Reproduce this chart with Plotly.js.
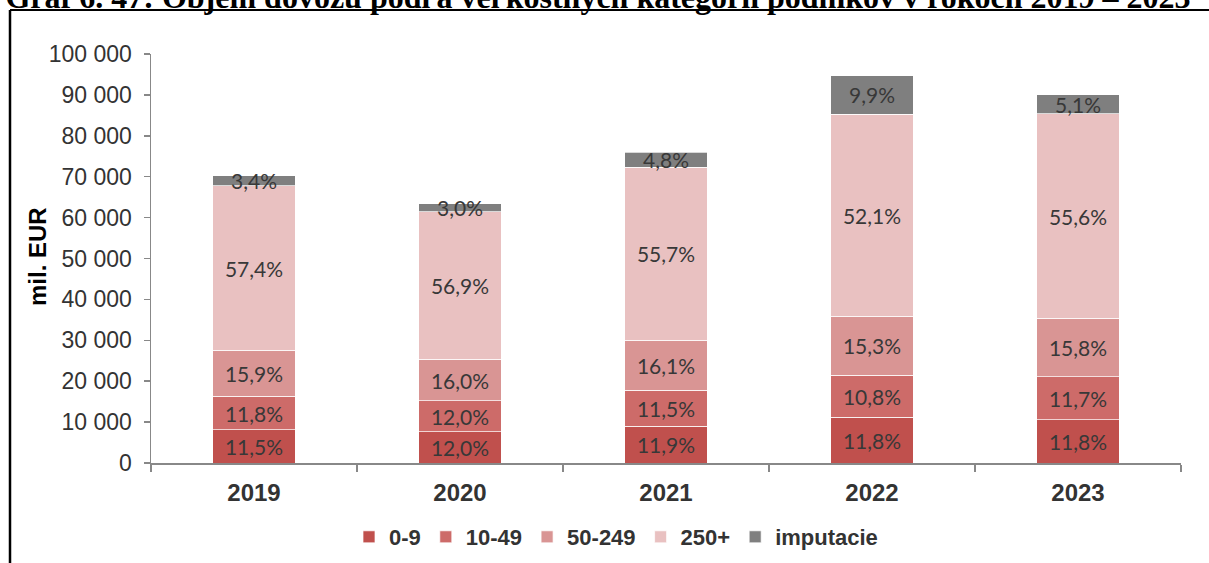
<!DOCTYPE html>
<html>
<head>
<meta charset="utf-8">
<script src="https://cdn.plot.ly/plotly-3.0.1.min.js"></script>
<style>
html,body{margin:0;padding:0;background:#fff;}
#chart{width:1209px;height:563px;}
</style>
</head>
<body>
<div id="chart"></div>
<script>
// Categories (years)
const years = ["2019", "2020", "2021", "2022", "2023"];

// Series values (mil. EUR)
const v0_9      = [8070, 7610, 9040, 11190, 10620];
const v10_49    = [8280, 7610, 8740, 10240, 10530];
const v50_249   = [11160, 10140, 12240, 14500, 14220];
const v250plus  = [40300, 36080, 42330, 49390, 50040];
const vImput    = [2390, 1900, 3650, 9390, 4590];

// Label texts (shares)
const t0_9     = ["11,5%", "12,0%", "11,9%", "11,8%", "11,8%"];
const t10_49   = ["11,8%", "12,0%", "11,5%", "10,8%", "11,7%"];
const t50_249  = ["15,9%", "16,0%", "16,1%", "15,3%", "15,8%"];
const t250plus = ["57,4%", "56,9%", "55,7%", "52,1%", "55,6%"];
const tImput   = ["3,4%", "3,0%", "4,8%", "9,9%", "5,1%"];

// Y tick values and labels
const yTickVals = [0, 10000, 20000, 30000, 40000, 50000, 60000, 70000, 80000, 90000, 100000];
const yTickText = ["0", "10 000", "20 000", "30 000", "40 000", "50 000", "60 000", "70 000", "80 000", "90 000", "100 000"];

const seriesNames = ["0-9", "10-49", "50-249", "250+", "imputacie"];
const seriesVals = [v0_9, v10_49, v50_249, v250plus, vImput];
const seriesText = [t0_9, t10_49, t50_249, t250plus, tImput];
const seriesColors = ["#C0504D", "#CD6B69", "#D99594", "#E9C1C1", "#7F7F7F"];

const labelFont = {family: "Lato, 'Open Sans', sans-serif", size: 21, color: "#383838"};

const traces = seriesNames.map((n, i) => ({
  type: "bar",
  name: n,
  x: years,
  y: seriesVals[i],
  text: seriesText[i],
  textposition: "inside",
  insidetextanchor: "middle",
  constraintext: "none",
  textfont: labelFont,
  marker: {color: seriesColors[i], line: {color: "rgba(255,255,255,0.7)", width: 1}},
  hoverinfo: "none"
}));

const W = 1209, H = 563;
const mL = 151, mR = 28, mT = 54, mB = 100;
const pw = W - mL - mR, ph = H - mT - mB;
const px2x = p => (p - mL) / pw;
const px2y = p => (H - mB - p) / ph;

const layout = {
  width: W, height: H,
  margin: {l: mL, r: mR, t: mT, b: mB, pad: 0, autoexpand: false},
  paper_bgcolor: "#ffffff",
  plot_bgcolor: "#ffffff",
  barmode: "stack",
  bargap: 0.6,
  showlegend: true,
  title: {
    text: "Graf 6. 47: Objem dovozu podľa veľkostných kategórií podnikov v rokoch 2019 – 2023",
    font: {family: "'Liberation Serif', 'Times New Roman', serif", size: 32, color: "#000", weight: "bold"},
    x: 598 / W, xanchor: "center", xref: "container",
    y: 1 - 8 / H, yanchor: "bottom", yref: "container"
  },
  xaxis: {
    type: "category",
    showline: true, linecolor: "#888888", linewidth: 1.5,
    ticks: "outside", tickson: "boundaries", ticklen: 7, tickcolor: "#888888", tickwidth: 1.5,
    tickfont: {family: "'Liberation Sans', Arial, sans-serif", size: 24, color: "#333333", weight: "bold"},
    ticklabelstandoff: 8,
    showgrid: false, zeroline: false
  },
  yaxis: {
    range: [0, 100000],
    tickvals: yTickVals, ticktext: yTickText,
    showline: true, linecolor: "#888888", linewidth: 1.5,
    ticks: "outside", ticklen: 6, tickcolor: "#888888", tickwidth: 1.5,
    tickfont: {family: "'Liberation Sans', Arial, sans-serif", size: 23, color: "#333333"},
    ticklabelstandoff: 7,
    showgrid: false, zeroline: false
  },
  annotations: [
    {text: "mil. EUR", textangle: -90, showarrow: false,
     xref: "paper", yref: "paper", x: px2x(37), y: px2y(257), xanchor: "center", yanchor: "middle",
     font: {family: "'Liberation Sans', Arial, sans-serif", size: 24, color: "#000000", weight: "bold"}}
  ],
  legend: {
    orientation: "h",
    x: px2x(616), xanchor: "center",
    y: px2y(537), yanchor: "middle",
    font: {family: "'Liberation Sans', Arial, sans-serif", size: 22, color: "#333333", weight: "bold"},
    itemwidth: 30,
    traceorder: "normal",
    itemclick: false
  },
  shapes: [
    {type: "line", xref: "paper", yref: "paper", x0: px2x(10), x1: px2x(1215), y0: px2y(10), y1: px2y(10), line: {color: "#000", width: 2}},
    {type: "line", xref: "paper", yref: "paper", x0: px2x(10), x1: px2x(10), y0: px2y(10), y1: px2y(570), line: {color: "#000", width: 2.5}}
  ]
};

Plotly.newPlot("chart", traces, layout, {staticPlot: true, displayModeBar: false});
</script>
</body>
</html>
